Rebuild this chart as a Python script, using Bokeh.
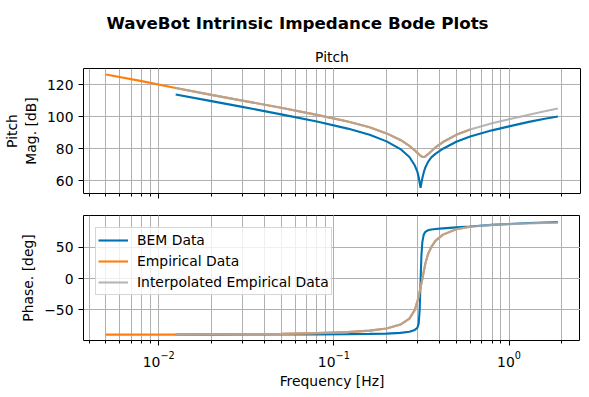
from bokeh.plotting import figure
from bokeh.models import Range1d, Title, FixedTicker
from bokeh.layouts import column
from bokeh.embed import file_html
from bokeh.resources import INLINE

# ---------------- data ----------------
bem_freq = [0.0125, 0.02, 0.03, 0.05, 0.08, 0.12, 0.16, 0.2, 0.24, 0.27, 0.29, 0.30, 0.305,
            0.309, 0.3126, 0.316, 0.32, 0.326, 0.333, 0.345, 0.36, 0.38, 0.42, 0.5, 0.6,
            0.8, 1.0, 1.3, 1.6, 1.9]
bem_mag = [113.9, 109.8, 106.2, 101.5, 97.0, 92.6, 88.7, 84.6, 79.8, 74.8, 69.5, 65.5, 62.3,
           58.6, 55.6, 58.4, 61.6, 65.2, 68.3, 71.8, 74.6, 76.8, 80.0, 84.4, 87.7,
           91.5, 94.0, 96.8, 98.8, 100.2]
bem_phase = [-89.6, -89.5, -89.4, -89.3, -89.1, -88.8, -88.4, -87.9, -86.8, -85.0, -82.0, -78.5, -72.0,
             -50.0, -5.0, 35.0, 58.0, 70.0, 74.5, 77.0, 78.2, 79.0, 80.0, 81.5, 83.0,
             85.5, 87.0, 88.5, 89.4, 90.0]

emp_freq = [0.005, 0.008, 0.0125, 0.02, 0.03, 0.05, 0.08, 0.12, 0.16, 0.2, 0.24, 0.27, 0.29,
            0.30, 0.305, 0.309, 0.3126, 0.316, 0.32, 0.326, 0.333, 0.345, 0.36, 0.38, 0.42,
            0.5, 0.6]
emp_mag = [126.5, 122.3, 118.0, 113.7, 110.1, 105.6, 101.2, 97.0, 93.4, 89.6, 85.5, 81.8, 78.9,
           77.4, 76.7, 76.1, 75.6, 75.3, 75.0, 74.85, 75.2, 76.6, 78.4, 80.8, 84.2,
           88.7, 92.0]
emp_phase = [-89.5, -89.5, -89.6, -89.3, -89.0, -88.3, -87.2, -85.5, -83.2, -79.8, -73.5, -64.0, -50.0,
             -36.0, -29.0, -21.0, -14.0, -8.0, -1.0, 11.0, 24.0, 39.0, 50.0, 60.0, 70.0,
             78.5, 82.5]

interp_freq = [0.0125, 0.02, 0.03, 0.05, 0.08, 0.12, 0.16, 0.2, 0.24, 0.27, 0.29, 0.30, 0.305,
               0.309, 0.3126, 0.316, 0.32, 0.326, 0.333, 0.345, 0.36, 0.38, 0.42, 0.5, 0.6,
               0.8, 1.0, 1.3, 1.6, 1.9]
interp_mag = [118.0, 113.7, 110.1, 105.6, 101.2, 97.0, 93.4, 89.6, 85.5, 81.8, 78.9, 77.4, 76.7,
              76.1, 75.6, 75.3, 75.0, 74.85, 75.2, 76.6, 78.4, 80.8, 84.2, 88.7, 92.0,
              95.9, 98.5, 101.3, 103.4, 105.2]
interp_phase = [-89.6, -89.3, -89.0, -88.3, -87.2, -85.5, -83.2, -79.8, -73.5, -64.0, -50.0, -36.0, -29.0,
                -21.0, -14.0, -8.0, -1.0, 11.0, 24.0, 39.0, 50.0, 60.0, 70.0, 78.5, 82.5,
                85.5, 86.8, 88.0, 88.7, 89.2]

mag_ticks = [60, 80, 100, 120]
phase_ticks = [-50, 0, 50]
phase_tick_labels = {-50: "\u221250", 0: "0", 50: "50"}

suptitle = "WaveBot Intrinsic Impedance Bode Plots"
subtitle = "Pitch"
labels = ["BEM Data", "Empirical Data", "Interpolated Empirical Data"]

# ---------------- style ----------------
FONT = "DejaVu Sans"
FS = "13.9px"
BLUE = "#0072b2"
ORANGE = "#ff7f0e"
GREY = "#a9a9a9"
GRID = "#b0b0b0"
LW = 2.1

x_range = Range1d(0.00372, 2.56)


def style(p):
    p.outline_line_color = "black"
    p.outline_line_width = 1
    p.outline_line_alpha = 1
    p.background_fill_color = "white"
    p.border_fill_color = "white"
    for ax in p.axis:
        ax.axis_line_color = None
        ax.major_tick_line_color = "black"
        ax.major_tick_line_width = 1
        ax.major_tick_out = 5
        ax.major_tick_in = 0
        ax.minor_tick_line_color = "black"
        ax.minor_tick_line_width = 1
        ax.minor_tick_out = 3
        ax.minor_tick_in = 0
        ax.major_label_text_font = FONT
        ax.major_label_text_font_size = FS
        ax.major_label_text_color = "black"
        ax.axis_label_text_font = FONT
        ax.axis_label_text_font_size = FS
        ax.axis_label_text_font_style = "normal"
        ax.axis_label_text_color = "black"
        ax.major_label_standoff = 5
    p.yaxis.minor_tick_line_color = None
    p.xgrid.grid_line_color = GRID
    p.xgrid.grid_line_width = 1
    p.xgrid.minor_grid_line_color = GRID
    p.xgrid.minor_grid_line_width = 1
    p.ygrid.grid_line_color = GRID
    p.ygrid.grid_line_width = 1


# ---------------- top: magnitude ----------------
p1 = figure(x_axis_type="log", x_range=x_range, y_range=Range1d(52.0, 130.2),
            frame_width=497, frame_height=125, output_backend="svg", toolbar_location=None,
            min_border_left=75, min_border_right=8, min_border_top=0, min_border_bottom=8)
# outer title (figure-wide)
p1.title.text = suptitle
p1.title.align = "left"
p1.title.offset = 23
p1.title.text_font = FONT
p1.title.text_font_size = "16.7px"
p1.title.text_font_style = "bold"
p1.title.text_color = "black"
p1.title.standoff = 21
# inner title (axes)
p1.add_layout(Title(text=subtitle, align="center", text_font=FONT, text_font_size=FS,
                    text_font_style="normal", text_color="black", standoff=7), "above")

p1.line(bem_freq, bem_mag, line_color=BLUE, line_width=LW)
p1.line(emp_freq, emp_mag, line_color=ORANGE, line_width=LW)
p1.line(interp_freq, interp_mag, line_color=GREY, line_width=LW, line_alpha=0.85)
style(p1)
p1.yaxis.ticker = FixedTicker(ticks=mag_ticks)
p1.yaxis.axis_label = "Pitch\nMag. [dB]"
p1.xaxis.major_label_text_font_size = "1px"
p1.xaxis.major_label_text_color = None
p1.xaxis.major_label_standoff = 0

# ---------------- bottom: phase ----------------
p2 = figure(x_axis_type="log", x_range=x_range, y_range=Range1d(-98.9, 100.5),
            frame_width=497, frame_height=125, output_backend="svg", toolbar_location=None,
            min_border_left=75, min_border_right=8, min_border_top=14, min_border_bottom=0)
p2.line(bem_freq, bem_phase, line_color=BLUE, line_width=LW, legend_label=labels[0])
p2.line(emp_freq, emp_phase, line_color=ORANGE, line_width=LW, legend_label=labels[1])
p2.line(interp_freq, interp_phase, line_color=GREY, line_width=LW, line_alpha=0.85,
        legend_label=labels[2])
style(p2)
p2.yaxis.ticker = FixedTicker(ticks=phase_ticks)
p2.yaxis.major_label_overrides = phase_tick_labels
p2.yaxis.axis_label = "Phase. [deg]"
p2.xaxis.axis_label = "Frequency [Hz]"
p2.xaxis.axis_label_standoff = 3

lg = p2.legend[0]
lg.location = "top_left"
lg.margin = 12
lg.padding = 2
lg.spacing = 1
lg.glyph_width = 30
lg.glyph_height = 20
lg.label_height = 20
lg.label_standoff = 9
lg.label_text_font = FONT
lg.label_text_font_size = FS
lg.label_text_color = "black"
lg.border_line_color = "#cccccc"
lg.border_line_alpha = 0.8
lg.background_fill_alpha = 0.8

layout = column(p1, p2, spacing=0)
open("out.html", "w").write(file_html(layout, INLINE))
